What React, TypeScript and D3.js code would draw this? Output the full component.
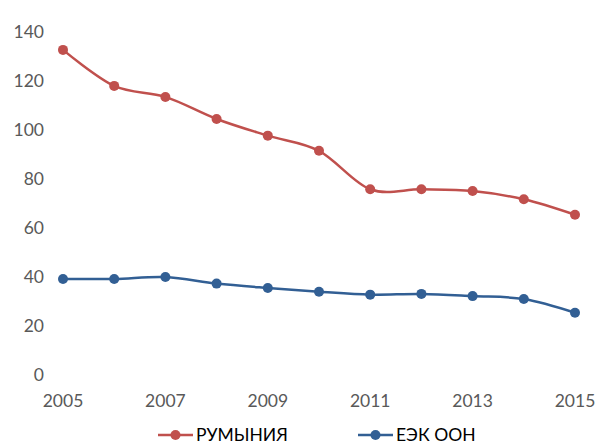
import React, { useEffect, useRef } from "react";
import * as d3 from "d3";

const years = [2005, 2006, 2007, 2008, 2009, 2010, 2011, 2012, 2013, 2014, 2015];
const romania = [132.7, 118, 113.5, 104.5, 97.7, 91.5, 75.8, 75.8, 75.1, 71.7, 65.4];
const uneceValues = [39.2, 39.2, 40.0, 37.3, 35.5, 34.0, 32.8, 33.1, 32.2, 31.0, 25.4];
const yTicks = [0, 20, 40, 60, 80, 100, 120, 140];
const xTicks = [2005, 2007, 2009, 2011, 2013, 2015];
const seriesNames = ["РУМЫНИЯ", "ЕЭК ООН"];

const App = () => {
  const svgRef = useRef<SVGSVGElement>(null);
  const width = 598, height = 443;

  useEffect(() => {
    const svg = d3.select(svgRef.current);
    svg.selectAll("*").remove();

    const x = d3.scaleLinear().domain([2005, 2015]).range([63, 575]);
    const y = d3.scaleLinear().domain([0, 140]).range([375, 32]);
    const font = "Lato, sans-serif";

    svg.append("g")
      .selectAll("text")
      .data(yTicks)
      .enter()
      .append("text")
      .attr("x", 44)
      .attr("y", d => y(d))
      .attr("dy", "0.35em")
      .attr("text-anchor", "end")
      .attr("font-family", font)
      .attr("font-size", 17.5)
      .attr("fill", "#595959")
      .text(d => d);

    svg.append("g")
      .selectAll("text")
      .data(xTicks)
      .enter()
      .append("text")
      .attr("x", d => x(d))
      .attr("y", 401)
      .attr("dy", "0.35em")
      .attr("text-anchor", "middle")
      .attr("font-family", font)
      .attr("font-size", 17.5)
      .attr("fill", "#595959")
      .text(d => d);

    const series = [
      { name: seriesNames[0], values: romania, color: "#C0504D" },
      { name: seriesNames[1], values: uneceValues, color: "#325F94" },
    ];

    const line = d3.line<number>()
      .x((d, i) => x(years[i]))
      .y(d => y(d))
      .curve(d3.curveCatmullRom.alpha(0));

    series.forEach(s => {
      svg.append("path")
        .attr("d", line(s.values))
        .attr("fill", "none")
        .attr("stroke", s.color)
        .attr("stroke-width", 2.5);
      svg.append("g")
        .selectAll("circle")
        .data(s.values)
        .enter()
        .append("circle")
        .attr("cx", (d, i) => x(years[i]))
        .attr("cy", d => y(d))
        .attr("r", 5)
        .attr("fill", s.color);
    });

    const legendX = [158, 358];
    series.forEach((s, i) => {
      const g = svg.append("g").attr("transform", `translate(${legendX[i]}, 435)`);
      g.append("line")
        .attr("x1", 0).attr("x2", 35)
        .attr("stroke", s.color)
        .attr("stroke-width", 2.5);
      g.append("circle").attr("cx", 17.5).attr("r", 5).attr("fill", s.color);
      g.append("text")
        .attr("x", 38)
        .attr("dy", "0.35em")
        .attr("font-family", font)
        .attr("font-size", 17.5)
        .attr("fill", "#000")
        .text(s.name);
    });
  }, []);

  return (
    <div>
      <svg ref={svgRef} width={width} height={height} style={{ position: "absolute", left: 0, top: 0 }}></svg>
    </div>
  );
};

export default App;
